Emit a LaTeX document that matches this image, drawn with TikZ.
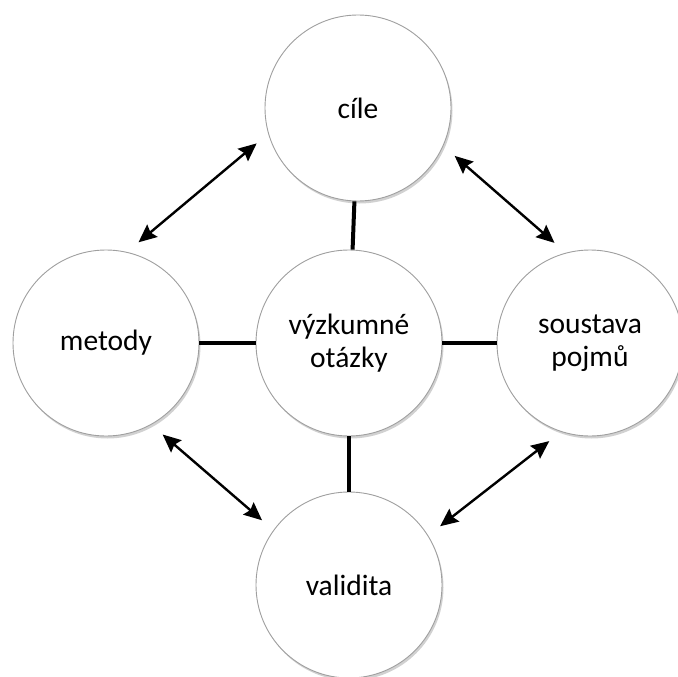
\documentclass[tikz,border=0pt]{standalone}
\usepackage{fontspec}
\setmainfont{Carlito}
\usetikzlibrary{arrows.meta,shadows}

\begin{document}
\begin{tikzpicture}[
  x=1pt, y=-1pt,
  bubble/.style={circle, draw=gray!75, line width=0.9pt, fill=white,
    minimum size=186pt, inner sep=0pt, align=center,
    font=\fontsize{29.5}{33}\selectfont,
    drop shadow={shadow xshift=1.5pt, shadow yshift=-2.5pt, opacity=0.45, fill=gray!80}},
  link/.style={line width=4pt},
  pair/.style={{Stealth[length=18pt,width=16pt,inset=2.5pt]}-{Stealth[length=18pt,width=16pt,inset=2.5pt]}, line width=2.4pt, shorten <=15pt, shorten >=15pt}
]
\useasboundingbox (0,0) rectangle (678,677);

\node[bubble] (otazky) at (349,343) {výzkumné\\otázky};
\node[bubble, above of=otazky, node distance=235pt, xshift=9pt] (cile) {cíle};
\node[bubble, left of=otazky, node distance=243pt] (metody) {metody};
\node[bubble, right of=otazky, node distance=241pt] (pojmy) {soustava\\pojmů};
\node[bubble, below of=otazky, node distance=242pt] (validita) {validita};

\draw[link] (cile) -- (otazky);
\draw[link] (metody) -- (otazky);
\draw[link] (otazky) -- (pojmy);
\draw[link] (otazky) -- (validita);

\draw[pair] (cile.196) -- (metody.77);
\draw[pair] (cile.336) -- (pojmy.105);
\draw[pair] (metody.299) -- (validita.144);
\draw[pair] (pojmy.252) -- (validita.32);
\end{tikzpicture}
\end{document}
